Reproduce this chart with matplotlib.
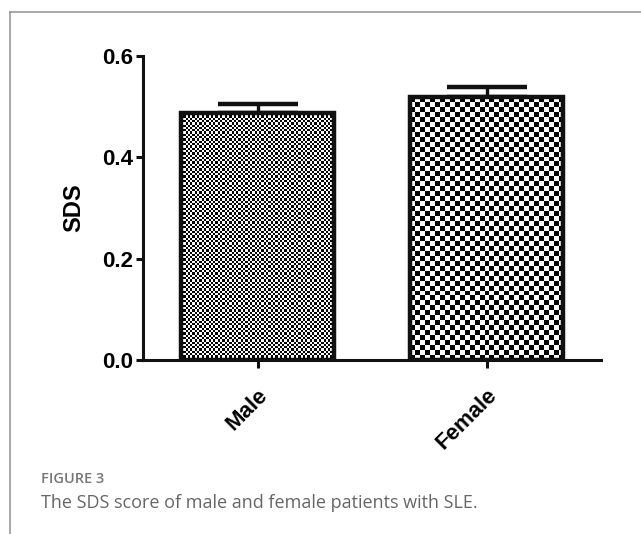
import numpy as np
import matplotlib.pyplot as plt
from matplotlib.lines import Line2D

groups = ["Male", "Female"]
sds_mean = [0.487, 0.519]
sds_err = [0.019, 0.019]
yticks = [0.0, 0.2, 0.4, 0.6]
# checker cell size in pixels for each bar
cell_px = [2.3, 5.0]

plt.rcParams['font.family'] = ['Liberation Sans', 'DejaVu Sans']

fig = plt.figure(figsize=(6.41, 5.34), dpi=100)
ax = fig.add_axes([0.223, 0.326, 0.715, 0.569])

x = np.arange(len(groups))
bars = ax.bar(x, sds_mean, width=0.67, color="white", edgecolor="none", zorder=1)
ax.errorbar(x, sds_mean, yerr=[np.zeros(len(x)), sds_err], fmt="none",
            ecolor="#111111", elinewidth=2.4, capsize=29, capthick=3.2, zorder=2)

ax.set_xlim(-0.5, 1.5)
ax.set_ylim(0, 0.6)
ax.set_yticks(yticks)
ax.set_yticklabels([f"{t:.1f}" for t in yticks], fontsize=16, fontweight="bold")
ax.set_xticks(x)
ax.set_xticklabels(groups, rotation=45, ha="right", rotation_mode="anchor",
                   fontsize=16, fontweight="bold")
ax.set_ylabel("SDS", fontsize=17, fontweight="bold", labelpad=12)
ax.tick_params(axis="both", length=5, width=2.2, color="#111111", pad=2)
ax.tick_params(axis="x", length=6, pad=12)
for s in ["top", "right"]:
    ax.spines[s].set_visible(False)
for s in ["left", "bottom"]:
    ax.spines[s].set_linewidth(2.2)
    ax.spines[s].set_color("#111111")

# checkerboard fill clipped to each bar
fig.canvas.draw()
for b, c in zip(bars, cell_px):
    bb = b.get_window_extent()
    nx = max(int(round(bb.width / c)), 2)
    ny = max(int(round(bb.height / c)), 2)
    checker = (np.indices((ny, nx)).sum(axis=0) % 2).astype(float)
    im = ax.imshow(checker, cmap="gray", vmin=0, vmax=1, interpolation="nearest",
                   extent=[b.get_x(), b.get_x() + b.get_width(), 0, b.get_height()],
                   aspect="auto", zorder=3)
    im.set_clip_path(b)
ax.bar(x, sds_mean, width=0.67, color="none", edgecolor="#111111",
       linewidth=3.2, zorder=4)
ax.set_xlim(-0.5, 1.5)
ax.set_ylim(0, 0.6)

# page frame and caption
fig.add_artist(Line2D([0.016, 1.0], [0.977, 0.977], color="#999999", lw=1.2))
fig.add_artist(Line2D([0.016, 0.016], [0.0, 0.977], color="#999999", lw=1.2))
fig.text(0.064, 0.103, "FIGURE 3", fontsize=10.5, color="#777777", va="center",
         family=["Open Sans", "DejaVu Sans"], fontweight="semibold")
fig.text(0.064, 0.058, "The SDS score of male and female patients with SLE.",
         fontsize=13, color="#666666", va="center",
         family=["Open Sans", "DejaVu Sans"])

fig.savefig("out.png", dpi=100)
